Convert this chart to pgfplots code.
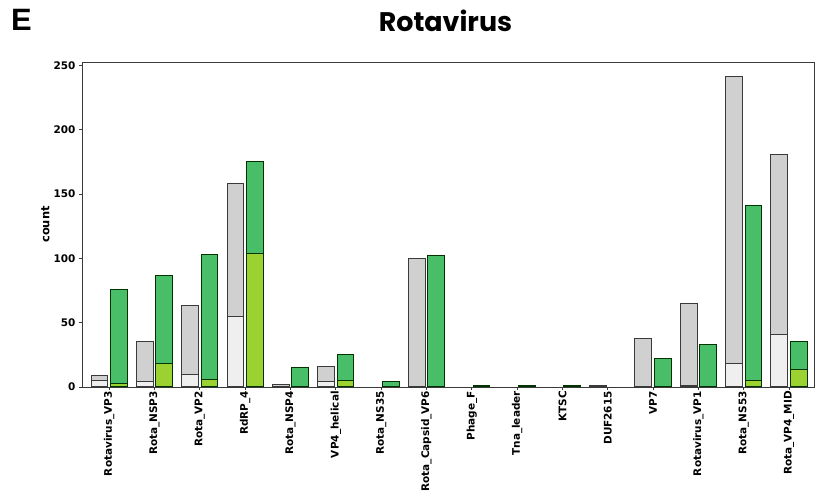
\documentclass[border=0pt]{standalone}
\usepackage{pgfplots}
\pgfplotsset{compat=1.18}
\usepackage{fontspec}
\setmainfont{DejaVu Sans}
\newfontfamily\titlefont{Poppins}
\newfontfamily\letterfont{Liberation Sans}
\definecolor{greybar}{HTML}{D0D0D0}
\definecolor{lightbar}{HTML}{EFEFEF}
\definecolor{greenbar}{HTML}{48BE68}
\definecolor{yellowbar}{HTML}{9BD232}
\definecolor{edgec}{HTML}{3A3A3A}
\begin{document}
\begin{tikzpicture}
\useasboundingbox (0,0) rectangle (822bp,498bp);
\node[font=\letterfont\bfseries\fontsize{31}{34}\selectfont, inner sep=0pt] at (21.5bp,478bp) {E};
\node[font=\titlefont\bfseries\fontsize{27}{30}\selectfont, inner sep=0pt] at (445.5bp,477bp) {Rotavirus};
\begin{axis}[
  at={(82bp,111bp)}, anchor=south west,
  scale only axis, width=732bp, height=325bp,
  xmin=-0.6, xmax=15.55, ymin=0, ymax=252.5,
  ytick={0,50,100,150,200,250},
  xtick={0,...,15},
  xticklabels={Rotavirus\_VP3,Rota\_NSP3,Rota\_VP2,RdRP\_4,Rota\_NSP4,VP4\_helical,Rota\_NS35,Rota\_Capsid\_VP6,Phage\_F,Tna\_leader,KTSC,DUF2615,VP7,Rotavirus\_VP1,Rota\_NS53,Rota\_VP4\_MID},
  x tick label style={rotate=90, anchor=east, font=\bfseries\fontsize{10.5}{12}\selectfont, inner sep=1bp},
  y tick label style={font=\bfseries\fontsize{10.5}{12}\selectfont},
  /pgf/number format/assume math mode=true,
  tick align=outside, major tick length=3bp,
  xtick pos=bottom, ytick pos=left,
  axis line style={edgec, line width=0.9bp},
  tick style={edgec, line width=0.8bp},
  ylabel={count},
  every axis y label/.style={at={(axis description cs:-0.05,0.5)}, rotate=90, anchor=center, font=\bfseries\fontsize{11.5}{13}\selectfont},
  ybar, bar width=0.37,
  every axis plot/.append style={line width=1bp},
]
% grey totals
\addplot[bar shift=-0.215, fill=greybar, draw=edgec] coordinates {
(0,9) (1,35) (2,63) (3,158) (4,2) (5,16) (7,100) (11,1) (12,38) (13,65) (14,241.5) (15,181)};
% light portion
\addplot[bar shift=-0.215, fill=lightbar, draw=edgec] coordinates {
(0,5) (1,4) (2,10) (3,55) (5,4) (13,1) (14,18) (15,41)};
% green totals
\addplot[bar shift=0.215, fill=greenbar, draw=black!80!green] coordinates {
(0,76) (1,87) (2,103) (3,175) (4,15) (5,25) (6,4) (7,102) (8,1) (9,1) (10,1) (12,22) (13,33) (14,141) (15,35)};
% yellow-green portion
\addplot[bar shift=0.215, fill=yellowbar, draw=black!80!green] coordinates {
(0,3) (1,18) (2,5.5) (3,104) (5,5) (14,5) (15,13.5)};
\end{axis}
\end{tikzpicture}
\end{document}
